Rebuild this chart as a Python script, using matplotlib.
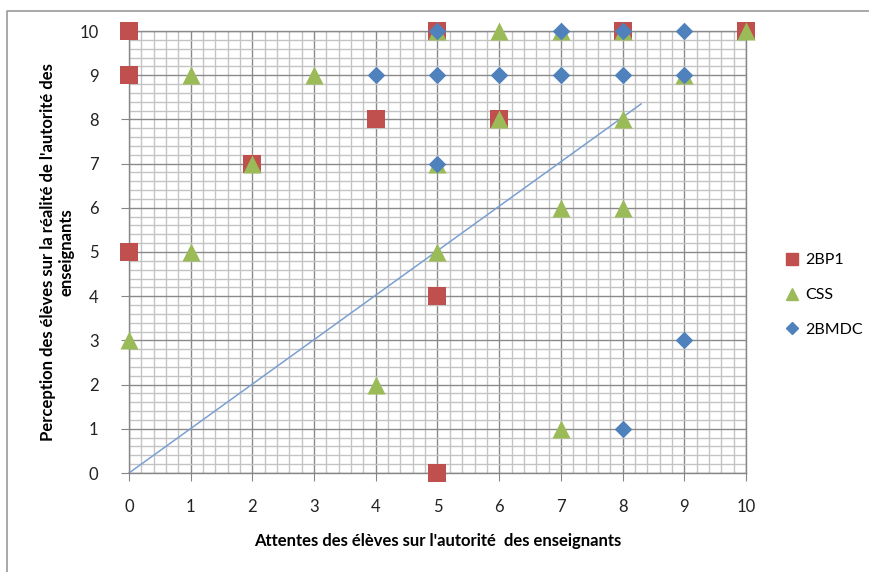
import numpy as np
import matplotlib.pyplot as plt
from matplotlib.ticker import MultipleLocator
from matplotlib.lines import Line2D

# scores per class: attentes (x) vs perception (y)
bp1_x = [0, 0, 2, 4, 5, 6, 8, 10, 0, 5, 5]
bp1_y = [10, 9, 7, 8, 10, 8, 10, 10, 5, 4, 0]

css_x = [1, 3, 2, 5, 6, 7, 8, 10, 9, 6, 8, 5, 7, 8, 1, 5, 0, 4, 7]
css_y = [9, 9, 7, 10, 10, 10, 10, 10, 9, 8, 8, 7, 6, 6, 5, 5, 3, 2, 1]

bmdc_x = [4, 5, 6, 7, 8, 9, 5, 7, 8, 9, 5, 9, 8]
bmdc_y = [9, 9, 9, 9, 9, 9, 10, 10, 10, 10, 7, 3, 1]

# reference line attentes = perception
ref_x = [0, 8.3]
ref_y = [0, 8.35]

ticks = list(range(0, 11))

plt.rcParams['font.family'] = ['Lato', 'DejaVu Sans']

fig = plt.figure(figsize=(8.7, 5.72), dpi=100)
ax = fig.add_axes([129/870, 1 - 473/572, (746-129)/870, (473-31)/572])

ax.set_xlim(0, 10)
ax.set_ylim(0, 10)
ax.xaxis.set_major_locator(MultipleLocator(1))
ax.yaxis.set_major_locator(MultipleLocator(1))
ax.xaxis.set_minor_locator(MultipleLocator(0.2))
ax.yaxis.set_minor_locator(MultipleLocator(0.2))
ax.grid(which='minor', color='#c4c4c4', linewidth=1.0, zorder=0)
ax.grid(which='major', color='#8a8a8a', linewidth=1.0, zorder=0)
ax.set_axisbelow(True)

for s in ['left', 'bottom', 'right', 'top']:
    ax.spines[s].set_color('#868686')
    ax.spines[s].set_linewidth(1.0)
ax.spines['top'].set_color('#8a8a8a')

ax.tick_params(which='minor', length=0)
ax.tick_params(which='major', direction='out', length=6, color='#868686',
               labelsize=12, labelcolor='#222222', pad=13)
ax.tick_params(axis='y', pad=16)
ax.set_xticks(ticks)
ax.set_yticks(ticks)

ax.plot(ref_x, ref_y, color='#7a9fd1', linewidth=1.1, zorder=2, clip_on=False)

ax.scatter(bp1_x, bp1_y, marker='s', s=150, color='#c0504d', zorder=3,
           clip_on=False, label='2BP1', linewidths=0)
ax.scatter(css_x, css_y, marker='^', s=170, color='#9bbb59', zorder=4,
           clip_on=False, label='CSS', linewidths=0)
ax.scatter(bmdc_x, bmdc_y, marker='D', s=80, color='#4f81bd', zorder=5,
           clip_on=False, label='2BMDC', linewidths=0)

ax.set_xlabel("Attentes des élèves sur l'autorité  des enseignants",
              fontsize=12, fontweight='bold', labelpad=13)
fig.text(57/870, 1 - 252/572,
         "Perception des élèves sur la réalité de l'autorité des\nenseignants",
         rotation=90, ha='center', va='center', fontsize=12,
         fontweight='bold', linespacing=1.2)

handles = [
    Line2D([], [], marker='s', linestyle='', color='#c0504d', markersize=9),
    Line2D([], [], marker='^', linestyle='', color='#9bbb59', markersize=9),
    Line2D([], [], marker='D', linestyle='', color='#4f81bd', markersize=6),
]
fig.legend(handles, ['2BP1', 'CSS', '2BMDC'], loc='center left',
           bbox_to_anchor=(778/870, 1 - 295/572), frameon=False,
           fontsize=11.5, handlelength=0.8, handletextpad=0.4,
           labelspacing=1.3, borderpad=0)

# outer chart frame
fig.add_artist(Line2D([7/870, 7/870, 1.0], [0.0, 1 - 11/572, 1 - 11/572],
                      transform=fig.transFigure, color='#9a9a9a', linewidth=1.2))

fig.savefig('out.png', dpi=100)
